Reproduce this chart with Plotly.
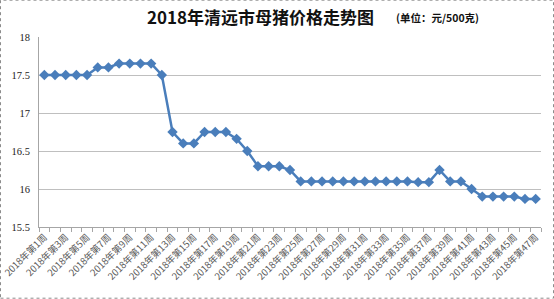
import plotly.graph_objects as go

weeks = [f"2018年第{i}周" for i in range(1, 48)]
prices = [17.5, 17.5, 17.5, 17.5, 17.5, 17.6, 17.6, 17.65, 17.65, 17.65,
          17.65, 17.5, 16.75, 16.6, 16.6, 16.75, 16.75, 16.75, 16.66, 16.5,
          16.3, 16.3, 16.3, 16.25, 16.1, 16.1, 16.1, 16.1, 16.1, 16.1,
          16.1, 16.1, 16.1, 16.1, 16.1, 16.09, 16.09, 16.25, 16.1, 16.1,
          16.0, 15.9, 15.9, 15.9, 15.9, 15.87, 15.87]
tick_text = [w if i % 2 == 0 else "" for i, w in enumerate(weeks)]
y_ticks = [15.5, 16, 16.5, 17, 17.5, 18]
y_tick_text = ["15.5", "16", "16.5", "17", "17.5", "18"]

title_text = "2018年清远市母猪价格走势图"
unit_text = "(单位：元/500克)"

fig = go.Figure()
fig.add_trace(go.Scatter(
    x=weeks, y=prices, mode="lines+markers",
    line=dict(color="#4A7EBB", width=2.5),
    marker=dict(symbol="diamond", size=8, color="#4A7EBB"),
    showlegend=False, hoverinfo="x+y",
))

fig.update_layout(
    width=554, height=299,
    margin=dict(l=39, r=13, t=37, b=72),
    paper_bgcolor="white", plot_bgcolor="white",
    xaxis=dict(
        type="category", tickson="boundaries", automargin=False,
        tickvals=weeks, ticktext=tick_text, tickangle=-45,
        ticks="outside", ticklen=4, tickcolor="#A6A6A6",
        showline=True, linecolor="#A6A6A6", linewidth=1,
        showgrid=False, range=[-0.5, 46.5],
        tickfont=dict(family="Noto Sans CJK SC", size=9.5, color="#595959"),
    ),
    yaxis=dict(
        range=[15.5, 18], tickvals=y_ticks, ticktext=y_tick_text, automargin=False,
        showline=True, linecolor="#A6A6A6", linewidth=1,
        showgrid=True, gridcolor="#BFBFBF", gridwidth=1,
        ticks="", zeroline=False,
        tickfont=dict(family="Liberation Serif", size=10.5, color="#222222"),
        ticklabelstandoff=6,
    ),
    annotations=[
        dict(text=f"<b>{title_text}</b>", xref="paper", yref="paper",
             x=(260 - 39) / 502, y=(227.3 - 17) / 190, xanchor="center", yanchor="middle",
             showarrow=False, font=dict(family="Noto Sans CJK SC", size=17, color="#111111")),
        dict(text=f"<b>{unit_text}</b>", xref="paper", yref="paper",
             x=(437 - 39) / 502, y=(227.3 - 18) / 190, xanchor="center", yanchor="middle",
             showarrow=False, font=dict(family="Noto Sans CJK SC", size=10.5, color="#111111")),
    ],
    shapes=[
        dict(type="rect", xref="paper", yref="paper",
             x0=(0.5 - 39) / 502, x1=(553.5 - 39) / 502,
             y0=(227.3 - 298.5) / 190, y1=(227.3 - 0.5) / 190,
             line=dict(color="#8C8C8C", width=1, dash="dot"), layer="below"),
    ],
)

fig.write_html("out.html")
